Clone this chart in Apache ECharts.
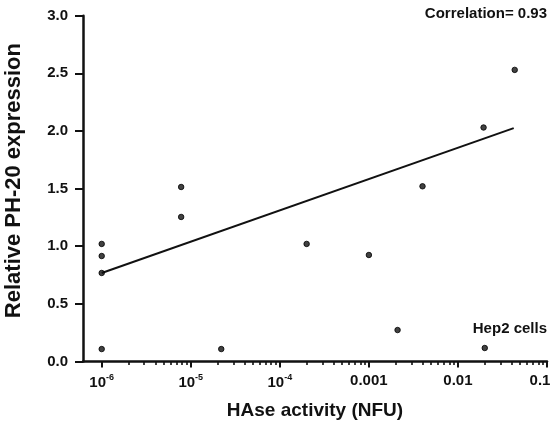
<!DOCTYPE html>
<html>
<head>
<meta charset="utf-8">
<script src="https://cdn.jsdelivr.net/npm/echarts@6/dist/echarts.min.js"></script>
<style>
html,body{margin:0;padding:0;background:#fff;}
#chart{width:557px;height:435px;}
</style>
</head>
<body>
<div id="chart"></div>
<script>
// Data
const pointX = [1e-6, 1e-6, 1e-6, 1e-6, 7.8e-6, 7.8e-6, 2.2e-5, 2e-4, 0.001, 0.0021, 0.004, 0.0194, 0.02, 0.0434];
const pointY = [1.02, 0.915, 0.768, 0.108, 1.514, 1.254, 0.108, 1.02, 0.924, 0.273, 1.52, 2.03, 0.117, 2.53];
const fitX = [1e-6, 0.0423];
const fitY = [0.768, 2.025];
const xTickValues = [1e-6, 1e-5, 1e-4, 1e-3, 1e-2, 1e-1];
const xTickLabels = ['10^-6', '10^-5', '10^-4', '0.001', '0.01', '0.1'];
const xMinorValues = [];
for (let d = -6; d <= -2; d++) {
  for (let m = 2; m <= 9; m++) xMinorValues.push(Number((m * Math.pow(10, d)).toPrecision(3)));
}
const correlationText = 'Correlation= 0.93';
const cellText = 'Hep2 cells';
const xTitle = 'HAse activity (NFU)';
const yTitle = 'Relative PH-20 expression';

const FONT = '"Liberation Sans", Arial, sans-serif';
const xMin = Math.pow(10, -6.21);
const xMax = 0.1;

function fmtX(v) {
  let idx = -1;
  for (let i = 0; i < xTickValues.length; i++) {
    if (Math.abs(Math.log10(v) - Math.log10(xTickValues[i])) < 1e-6) idx = i;
  }
  if (idx < 0) return '';
  const s = xTickLabels[idx];
  if (s.indexOf('^') >= 0) {
    const p = s.split('^');
    return '{b|' + p[0] + '}{s|' + p[1] + '}';
  }
  if (idx === xTickLabels.length - 1) return '{e|' + s + '}';
  return '{b|' + s + '}';
}

const chart = echarts.init(document.getElementById('chart'), null, {renderer: 'canvas'});
chart.setOption({
  animation: false,
  backgroundColor: '#fff',
  grid: {left: 83, right: 10, top: 15.7, bottom: 73.5, containLabel: false, outerBoundsMode: 'none'},
  xAxis: [{
    type: 'log',
    min: xMin, max: xMax,
    name: xTitle,
    nameLocation: 'middle',
    nameGap: 40,
    nameTextStyle: {fontFamily: FONT, fontWeight: 'bold', fontSize: 19, color: '#111'},
    axisLine: {show: true, onZero: false, lineStyle: {color: '#111', width: 2.5}},
    axisTick: {show: true, customValues: xTickValues, length: 6, lineStyle: {color: '#111', width: 2}},
    axisLabel: {
      customValues: xTickValues, margin: 12, color: '#111',
      formatter: fmtX,
      rich: {
        b: {fontFamily: FONT, fontWeight: 'bold', fontSize: 15, color: '#111'},
        e: {fontFamily: FONT, fontWeight: 'bold', fontSize: 15, color: '#111', padding: [0, 14, 0, 0]},
        s: {fontFamily: FONT, fontWeight: 'bold', fontSize: 9, color: '#111', padding: [0, 0, 10, 0]}
      }
    },
    splitLine: {show: false},
    minorTick: {show: false}
  }, {
    type: 'log',
    min: xMin, max: xMax,
    position: 'bottom',
    axisLine: {show: false},
    axisTick: {show: true, customValues: xMinorValues, length: 3.5, lineStyle: {color: '#111', width: 1.6}},
    axisLabel: {show: false},
    splitLine: {show: false}
  }],
  yAxis: {
    type: 'value',
    min: 0, max: 3, interval: 0.5,
    name: yTitle,
    nameLocation: 'middle',
    nameGap: 58,
    nameTextStyle: {fontFamily: FONT, fontWeight: 'bold', fontSize: 22, color: '#111', padding: [0, 0, 0, 16]},
    axisLine: {show: true, lineStyle: {color: '#111', width: 2.5}},
    axisTick: {show: true, length: 8, lineStyle: {color: '#111', width: 2}},
    axisLabel: {
      margin: 15, color: '#111', fontFamily: FONT, fontWeight: 'bold', fontSize: 15,
      formatter: function (v) { return v.toFixed(1); }
    },
    splitLine: {show: false}
  },
  series: [{
    type: 'line',
    data: fitX.map((x, i) => [x, fitY[i]]),
    showSymbol: false,
    lineStyle: {color: '#111', width: 2},
    z: 2
  }, {
    type: 'scatter',
    data: pointX.map((x, i) => [x, pointY[i]]),
    symbol: 'circle',
    symbolSize: 5.5,
    itemStyle: {color: '#111', borderColor: '#000', borderWidth: 1},
    z: 3
  }],
  graphic: [{
    type: 'text', right: 10, top: 6,
    style: {text: correlationText, fontFamily: FONT, fontWeight: 'bold', fontSize: 15, fill: '#111'}
  }, {
    type: 'text', right: 10, top: 321,
    style: {text: cellText, fontFamily: FONT, fontWeight: 'bold', fontSize: 15, fill: '#111'}
  }]
});
</script>
</body>
</html>
